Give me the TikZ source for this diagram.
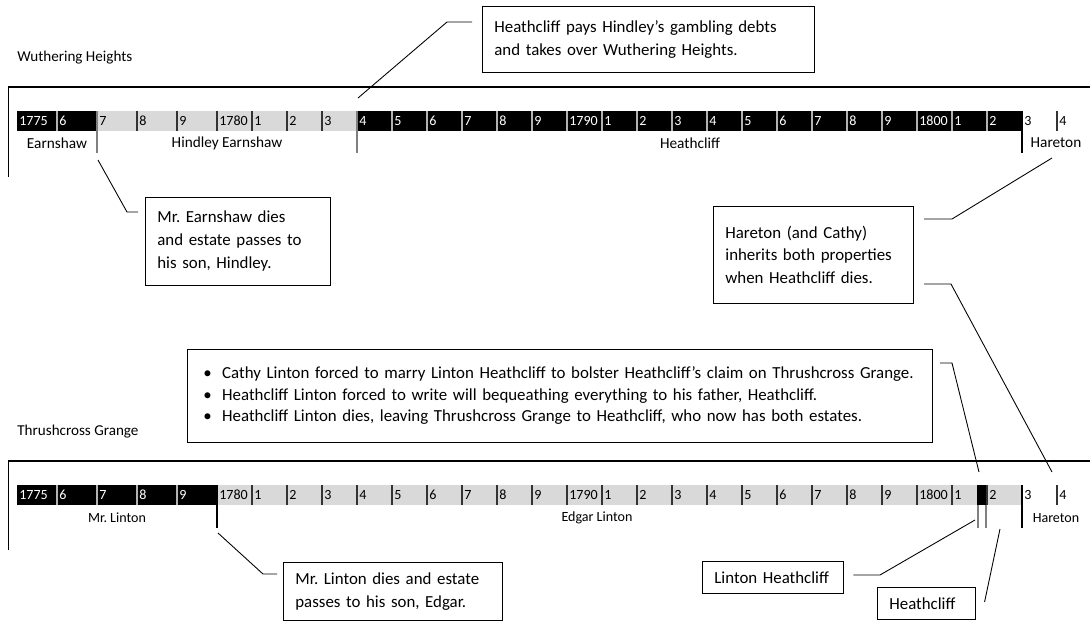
\documentclass[tikz,border=0pt]{standalone}
\usepackage{fontspec}
\setmainfont{Carlito}
\usepackage{xcolor}
\usepackage{tikz}
\usetikzlibrary{positioning,calc}
\frenchspacing

\begin{document}
\begin{tikzpicture}[x=0.02cm, y=-0.02cm]

\tikzstyle{block} = [draw, rectangle, anchor=north west, align=left, inner xsep=6.8pt, inner ysep=0pt, line width=0.5pt, font=\fontsize{9.6}{13}\selectfont]
\tikzstyle{leader} = [line width=0.5pt]
\tikzstyle{year} = [anchor=west, inner sep=0pt, font=\fontsize{8}{9}\selectfont]
\tikzstyle{era} = [inner sep=0pt, font=\fontsize{8.7}{10}\selectfont]
\tikzstyle{title} = [anchor=west, inner sep=0pt, font=\fontsize{8.6}{10}\selectfont]
\tikzstyle{axis} = [line width=1.4pt]
\tikzstyle{divider} = [line width=1.2pt]

\useasboundingbox (0,0) rectangle (1090,623);

\node [title] (wuthering) at (17,58) {Wuthering Heights};
\draw [axis] (8,87) -- (1090,87);
\draw [line width=0.5pt] (8,87) -- (8,177);
\fill [black] (17,111) rectangle (97,131);
\fill [gray!30] (97,111) rectangle (357,131);
\fill [black] (357,111) rectangle (1022,131);
\foreach \lab [count=\n from 0] in {1775,6,7,8,9,1780,1,2,3,4,5,6,7,8,9,1790,1,2,3,4,5,6,7,8,9,1800,1,2,3,4} {
  \pgfmathsetmacro\xx{\n<5 ? 17+40*\n : 42+35*\n}
  \pgfmathtruncatemacro\inv{(\n<2 || (\n>8 && \n<28)) ? 1 : 0}
  \ifnum\inv=1 \def\tc{white}\def\sc{gray!60}\else\def\tc{black}\def\sc{black!80}\fi
  \ifnum\n>0 \draw [\sc, line width=0.6pt] (\xx,111) -- (\xx,131); \fi
  \node [year, text=\tc] (wh-\n) at (\xx+2,121) {\lab};
}
\draw [gray, line width=0.6pt] (97,111) -- (97,153);
\draw [gray, line width=0.6pt] (357,111) -- (357,153);
\draw [divider] (1022,111) -- (1022,153);
\node [era] (earnshaw-era) at (57,143) {Earnshaw};
\node [era] (hindley-era) at (227,143) {Hindley Earnshaw};
\node [era] (heathcliff-era) at (690,143) {Heathcliff};
\node [era] (hareton-wh-era) at (1056,143) {Hareton};

\node [title] (thrushcross) at (17,432) {Thrushcross Grange};
\draw [axis] (8,461) -- (1090,461);
\draw [line width=0.5pt] (8,461) -- (8,550);
\fill [black] (17,485) rectangle (217,505);
\fill [gray!30] (217,485) rectangle (1022,505);
\fill [black] (977,485) rectangle (986,505);
\foreach \lab [count=\n from 0] in {1775,6,7,8,9,1780,1,2,3,4,5,6,7,8,9,1790,1,2,3,4,5,6,7,8,9,1800,1,2,3,4} {
  \pgfmathsetmacro\xx{\n<5 ? 17+40*\n : 42+35*\n}
  \ifnum\n<5 \def\tc{white}\def\sc{gray!60}\else\def\tc{black}\def\sc{black!80}\fi
  \ifnum\n>0 \draw [\sc, line width=0.6pt] (\xx,485) -- (\xx,505); \fi
  \node [year, text=\tc] (tg-\n) at (\xx+2,495) {\lab};
}
\draw [line width=0.8pt] (217,485) -- (217,528);
\draw [gray, line width=0.6pt] (978,505) -- (978,528);
\draw [gray, line width=0.6pt] (986,505) -- (986,528);
\draw [divider] (1022,485) -- (1022,528);
\node [era, font=\fontsize{8}{10}\selectfont] (linton-era) at (117,518) {Mr. Linton};
\node [era, font=\fontsize{8}{10}\selectfont] (edgar-era) at (597,518) {Edgar Linton};
\node [era, font=\fontsize{8}{10}\selectfont] (hareton-tg-era) at (1056,518) {Hareton};

\node [block, text width=175.2pt, minimum height=37.4pt] (debts) at (482,6) {Heathcliff pays Hindley’s gambling debts\\and takes over Wuthering Heights.};
\node [block, text width=91.5pt, minimum height=49.9pt] (earnshaw-dies) at (145,197) {Mr. Earnshaw dies\\and estate passes to\\his son, Hindley.};
\node [block, text width=100.3pt, minimum height=55pt] (hareton-inherits) at (713,206) {Hareton (and Cathy)\\inherits both properties\\when Heathcliff dies.};
\node [block, inner xsep=9pt, text width=406pt, minimum height=52.7pt, font=\fontsize{9.6}{12.2}\selectfont] (bullets) at (187,349) {\mbox{\makebox[10.8pt][l]{\textbullet}Cathy Linton forced to marry Linton Heathcliff to bolster Heathcliff’s claim on Thrushcross Grange.}\\\mbox{\makebox[10.8pt][l]{\textbullet}Heathcliff Linton forced to write will bequeathing everything to his father, Heathcliff.}\\\mbox{\makebox[10.8pt][l]{\textbullet}Heathcliff Linton dies, leaving Thrushcross Grange to Heathcliff, who now has both estates.}};
\node [block, text width=111.1pt, minimum height=32.9pt] (linton-dies) at (283,562) {Mr. Linton dies and estate\\passes to his son, Edgar.};
\node [block, text width=66.9pt, minimum height=18.1pt] (linton-heathcliff) at (702,561) {Linton Heathcliff};
\node [block, text width=42pt, minimum height=18.1pt] (heathcliff) at (877,587) {Heathcliff};

\coordinate (debts-bend) at (447,22);
\coordinate (debts-tip) at (358,98);
\coordinate (earnshaw-bend) at (127,212);
\coordinate (earnshaw-tip) at (98,160);
\coordinate (hareton-bend-a) at (952,219);
\coordinate (hareton-tip-a) at (1052,158);
\coordinate (hareton-bend-b) at (951,284);
\coordinate (hareton-tip-b) at (1052,472);
\coordinate (bullets-bend) at (952,363);
\coordinate (bullets-tip) at (979,472);
\coordinate (linton-bend) at (263,574);
\coordinate (linton-tip) at (218,533);
\coordinate (lh-bend) at (880,575);
\coordinate (lh-tip) at (975,520);
\coordinate (heathcliff-tip) at (1000,529);

\draw [leader] ([shift={(-10,16)}]debts.north west) -- (debts-bend) -- (debts-tip);
\draw [leader] ([shift={(-7,15)}]earnshaw-dies.north west) -- (earnshaw-bend) -- (earnshaw-tip);
\draw [leader] ([shift={(10,13)}]hareton-inherits.north east) -- (hareton-bend-a) -- (hareton-tip-a);
\draw [leader] ([shift={(10,78)}]hareton-inherits.north east) -- (hareton-bend-b) -- (hareton-tip-b);
\draw [leader] ([shift={(7,14)}]bullets.north east) -- (bullets-bend) -- (bullets-tip);
\draw [leader] ([shift={(-6,12)}]linton-dies.north west) -- (linton-bend) -- (linton-tip);
\draw [leader] ([shift={(9,14)}]linton-heathcliff.north east) -- (lh-bend) -- (lh-tip);
\draw [leader] ([shift={(9,15)}]heathcliff.north east) -- (heathcliff-tip);
\end{tikzpicture}
\end{document}
